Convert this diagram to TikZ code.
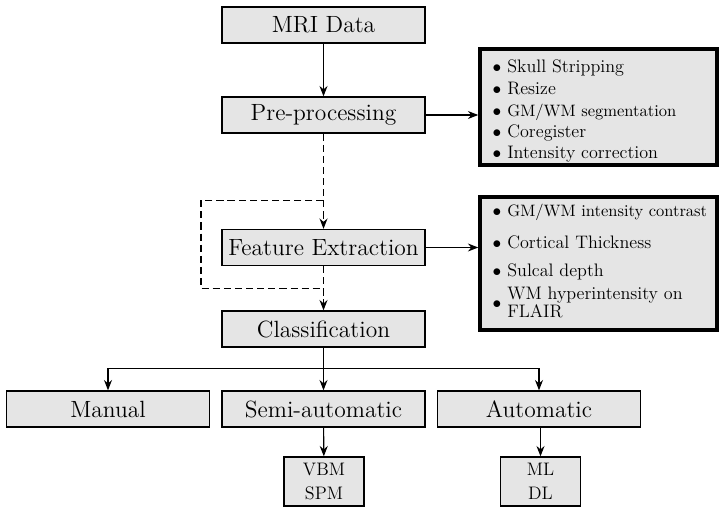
\documentclass[tikz,border=0pt]{standalone}
\usetikzlibrary{arrows.meta}
\begin{document}
\begin{tikzpicture}[x=0.63pt,y=-0.63pt,
  mainbox/.style={draw, line width=0.8pt, fill=gray!20, minimum width=128pt, minimum height=22.7pt, inner sep=0pt, font=\fontsize{14.8pt}{17pt}\selectfont},
  subbox/.style={draw, line width=0.8pt, fill=gray!20, minimum width=50.4pt, minimum height=30.9pt, inner sep=0pt, align=center, font=\fontsize{11.4pt}{13pt}\selectfont},
  listbox/.style={draw, line width=2.2pt, fill=gray!20, inner sep=0pt},
  link/.style={line width=0.7pt},
  conn/.style={line width=0.7pt, -{Stealth[length=6.5pt,width=5pt]}},
  dconn/.style={conn, dash pattern=on 4.5pt off 2.5pt},
  dline/.style={link, dash pattern=on 4.5pt off 2.5pt},
  itemtxt/.style={anchor=base west, inner sep=0pt, font=\fontsize{11.4pt}{13pt}\selectfont},
  smalltxt/.style={itemtxt, font=\fontsize{10.4pt}{12pt}\selectfont},
  bul/.style={anchor=base, inner sep=0pt, font=\fontsize{11.4pt}{13pt}\selectfont}
]
\useasboundingbox (0,0) rectangle (719,515);

% main chain
\node[mainbox] (mri) at (323.5,25) {MRI Data};
\node[mainbox] (pre) at (323.5,115) {Pre-processing};
\node[mainbox] (fe) at (323.5,247.5) {Feature Extraction};
\node[mainbox] (cls) at (323.5,329) {Classification};
\node[mainbox] (man) at (108,409) {Manual};
\node[mainbox] (semi) at (323.5,409) {Semi-automatic};
\node[mainbox] (aut) at (539,409) {Automatic};
\node[subbox] (vbm) at (324,481.5) {VBM\\[2pt]SPM};
\node[subbox] (ml) at (540.5,481.5) {ML\\[2pt]DL};

% list boxes
\node[listbox, minimum width=149.3pt, minimum height=73pt] (lb1) at (598.5,107) {};
\node[listbox, minimum width=149.3pt, minimum height=83.8pt] (lb2) at (598.5,263.5) {};

\node[bul] (b11) at (497,72.5) {$\bullet$};
\node[itemtxt] (t11) at (507,72.5) {Skull Stripping};
\node[bul] (b12) at (497,94.5) {$\bullet$};
\node[itemtxt] (t12) at (507,94.5) {Resize};
\node[bul] (b13) at (497,116) {$\bullet$};
\node[smalltxt] (t13) at (507,116) {GM/WM segmentation};
\node[bul] (b14) at (497,137.5) {$\bullet$};
\node[itemtxt] (t14) at (507,137.5) {Coregister};
\node[bul] (b15) at (497,158.5) {$\bullet$};
\node[itemtxt] (t15) at (507,158.5) {Intensity correction};

\node[bul] (b21) at (497,216) {$\bullet$};
\node[smalltxt] (t21) at (507,216) {GM/WM intensity contrast};
\node[bul] (b22) at (497,248) {$\bullet$};
\node[itemtxt] (t22) at (507,248) {Cortical Thickness};
\node[bul] (b23) at (497,276) {$\bullet$};
\node[itemtxt] (t23) at (507,276) {Sulcal depth};
\node[bul] (b24) at (497,308.5) {$\bullet$};
\node[itemtxt] (t24a) at (507,299.5) {WM hyperintensity on};
\node[itemtxt] (t24b) at (507,317.5) {FLAIR};

% coordinates
\coordinate (lA) at (323.5,200.5);
\coordinate (lB) at (201,200.5);
\coordinate (lC) at (201,288.5);
\coordinate (lD) at (323.5,288.5);
\coordinate (split) at (323.5,368.5);

% connectors
\draw[conn] (mri) -- (pre);
\draw[conn] (pre.east) -- (pre.east -| lb1.west);
\draw[dconn] (pre) -- (fe);
\draw[dline] (lA) -- (lB) -- (lC) -- (lD);
\draw[conn] (fe.east) -- (fe.east -| lb2.west);
\draw[dconn] (fe) -- (cls);
\draw[link] (cls) -- (split);
\draw[conn] (split) -| (man.north);
\draw[conn] (split) -- (semi);
\draw[conn] (split) -| (aut.north);
\draw[conn] (semi) -- (vbm);
\draw[conn] (aut.south) -- (aut.south -| ml.north) -- (ml.north);
\end{tikzpicture}
\end{document}
